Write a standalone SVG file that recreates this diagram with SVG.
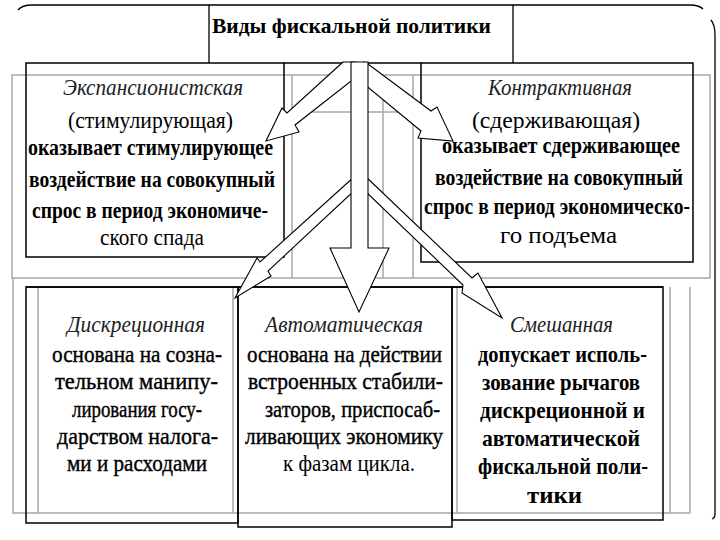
<svg xmlns="http://www.w3.org/2000/svg" width="720" height="540" viewBox="0 0 720 540">
<style>
  .bg{fill:#fff}
  .frame{fill:none;stroke:#000;stroke-width:1.3}
  .grid{fill:none;stroke:#a8a8a8;stroke-width:1.5}
  .box{fill:none;stroke:#000;stroke-width:1.5}
  .ln{stroke:#000;stroke-width:1.3}
  .arr{fill:#fff;stroke:#000;stroke-width:1.1;stroke-linejoin:miter}
  text{font-family:"Liberation Serif","Times New Roman",serif;font-size:24px;fill:#000}
  .t{font-weight:bold;font-size:22px}
  .h{font-style:italic;fill:#222;font-size:23px}
  .b{font-weight:bold}
  .s{font-size:21.5px}
  .m{stroke:#000;stroke-width:0.4}
</style>
<rect class="bg" x="0" y="0" width="720" height="540"/>
<path class="frame" d="M18,10 Q22,5 32,5 L690,5 Q699,5 703,9 M711,20 Q715,25 715,35 L715,514 Q715,518 712,519"/>
<g id="grid">
  <rect class="grid" x="12" y="75" width="698" height="203"/>
  <path class="grid" d="M292,75 V278 M413,75 V278 M383,75 V278 M292,112 H413"/>
  <path class="grid" d="M13,278 V513 H690 M38,287 V513 M233,287 V513 M457,287 V513 M670,287 V513 M690,287 V513"/>
</g>
<g id="title">
  <path class="ln" d="M209,5 V63 M513,5 V63"/>
  <text class="t" x="212" y="33" textLength="279" lengthAdjust="spacingAndGlyphs">Виды фискальной политики</text>
</g>
<g id="expansionary">
  <rect class="box" x="26" y="63" width="258" height="194"/>
  <text class="h" x="63" y="95" textLength="180" lengthAdjust="spacingAndGlyphs">Экспансионистская</text>
  <text x="68" y="128" textLength="165" lengthAdjust="spacingAndGlyphs">(стимулирующая)</text>
  <text class="b" x="28" y="155" textLength="245" lengthAdjust="spacingAndGlyphs">оказывает стимулирующее</text>
  <text class="b" x="29" y="187" textLength="246" lengthAdjust="spacingAndGlyphs">воздействие на совокупный</text>
  <text class="b" x="32" y="218" textLength="236" lengthAdjust="spacingAndGlyphs">спрос в период экономиче-</text>
  <text x="100" y="245" textLength="104" lengthAdjust="spacingAndGlyphs">ского спада</text>
</g>
<g id="contractionary">
  <rect class="box" x="421" y="63" width="272" height="199"/>
  <text class="h" x="488" y="95" textLength="144" lengthAdjust="spacingAndGlyphs">Контрактивная</text>
  <text x="472" y="128" textLength="168" lengthAdjust="spacingAndGlyphs">(сдерживающая)</text>
  <text class="b s" transform="translate(0,153) scale(1,1.12) translate(0,-153)" x="442" y="153" textLength="238" lengthAdjust="spacingAndGlyphs">оказывает сдерживающее</text>
  <text class="b s" transform="translate(0,185) scale(1,1.12) translate(0,-185)" x="435" y="185" textLength="248" lengthAdjust="spacingAndGlyphs">воздействие на совокупный</text>
  <text class="b s" transform="translate(0,214) scale(1,1.12) translate(0,-214)" x="424" y="214" textLength="266" lengthAdjust="spacingAndGlyphs">спрос в период экономическо-</text>
  <text x="500" y="243" textLength="117" lengthAdjust="spacingAndGlyphs">го подъема</text>
</g>
<path class="ln" d="M284,63 H421 M26,287 H663"/>
<g id="discretionary">
  <rect class="box" x="26" y="287" width="212" height="236"/>
  <text class="h" x="67" y="332" textLength="138" lengthAdjust="spacingAndGlyphs">Дискреционная</text>
  <text class="m" x="52" y="362" textLength="170" lengthAdjust="spacingAndGlyphs">основана на созна-</text>
  <text class="m" x="55" y="389" textLength="163" lengthAdjust="spacingAndGlyphs">тельном манипу-</text>
  <text class="m" x="72" y="417" textLength="130" lengthAdjust="spacingAndGlyphs">лирования госу-</text>
  <text class="m" x="57" y="444" textLength="161" lengthAdjust="spacingAndGlyphs">дарством налога-</text>
  <text class="m" x="67" y="471" textLength="140" lengthAdjust="spacingAndGlyphs">ми и расходами</text>
</g>
<g id="automatic">
  <rect class="box" x="238" y="287" width="214" height="240"/>
  <text class="h" x="265" y="332" textLength="158" lengthAdjust="spacingAndGlyphs">Автоматическая</text>
  <text class="m" x="247" y="362" textLength="195" lengthAdjust="spacingAndGlyphs">основана на действии</text>
  <text class="m" x="248" y="389" textLength="195" lengthAdjust="spacingAndGlyphs">встроенных стабили-</text>
  <text class="m" x="265" y="417" textLength="175" lengthAdjust="spacingAndGlyphs">заторов, приспосаб-</text>
  <text class="m" x="245" y="444" textLength="198" lengthAdjust="spacingAndGlyphs">ливающих экономику</text>
  <text x="283" y="471" textLength="132" lengthAdjust="spacingAndGlyphs">к фазам цикла.</text>
</g>
<g id="mixed">
  <rect class="box" x="452" y="287" width="211" height="233"/>
  <text class="h" x="510" y="332" textLength="103" lengthAdjust="spacingAndGlyphs">Смешанная</text>
  <text class="b" x="478" y="362" textLength="169" lengthAdjust="spacingAndGlyphs">допускает исполь-</text>
  <text class="b" x="482" y="390" textLength="158" lengthAdjust="spacingAndGlyphs">зование рычагов</text>
  <text class="b" x="480" y="418" textLength="165" lengthAdjust="spacingAndGlyphs">дискреционной и</text>
  <text class="b" x="482" y="446" textLength="158" lengthAdjust="spacingAndGlyphs">автоматической</text>
  <text class="b" x="478" y="474" textLength="170" lengthAdjust="spacingAndGlyphs">фискальной поли-</text>
  <text class="b" x="527" y="503" textLength="55" lengthAdjust="spacingAndGlyphs">тики</text>
</g>
<g id="connectors">
  <polygon class="arr" points="343,62 287,113 282,108 266,141 299,132 295,125 355,78 355,62"/>
  <polygon class="arr" points="364,62 368,64 431,111 437,107 453,141 418,138 421,131 364,84"/>
  <polygon class="arr" points="355,176 260,262 257,258 235,298 271,276 268,271 355,190"/>
  <polygon class="arr" points="364,175 472,278 478,273 502,318 462,293 463,285 364,190"/>
  <polygon class="arr" points="351,62 368,62 368,248 389,248 359,312 330,248 351,248"/>
</g>
</svg>
